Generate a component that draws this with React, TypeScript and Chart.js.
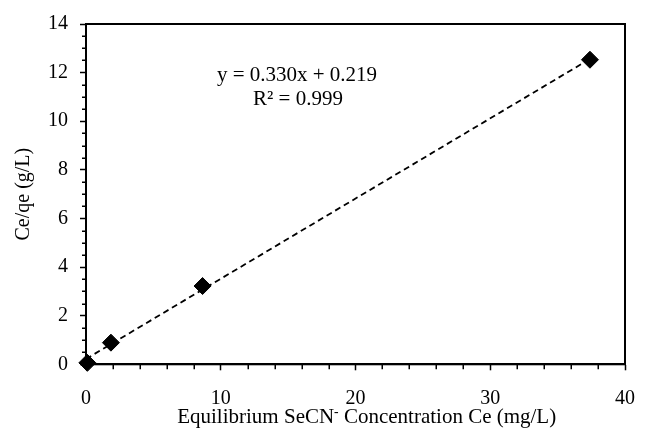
import React, { useEffect, useRef } from "react";
import { Chart, registerables } from "chart.js";

Chart.register(...registerables);

// Data
const ceValues = [0.1, 1.85, 8.65, 37.4]; // Equilibrium SeCN- concentration Ce (mg/L)
const ceQeValues = [0.06, 0.89, 3.22, 12.53]; // Ce/qe (g/L)
const trendSlope = 0.33;
const trendIntercept = 0.219;
const rSquared = 0.999;
const trendRange = [0, 37.4];
const xMajorTicks = [0, 10, 20, 30, 40];
const yMajorTicks = [0, 2, 4, 6, 8, 10, 12, 14];
const xMinorStep = 2;
const yMinorStep = 0.5;

const FONT = '"Liberation Serif", "Times New Roman", serif';
const FS = 20;
const FS_TITLE = 21;

const boxPlugin = {
  id: "boxPlugin",
  beforeDatasetsDraw(chart: any) {
    const { ctx, chartArea, scales } = chart;
    ctx.save();
    ctx.strokeStyle = "#000";
    ctx.lineWidth = 2;
    ctx.strokeRect(chartArea.left, chartArea.top, chartArea.right - chartArea.left, chartArea.bottom - chartArea.top);
    // minor ticks
    ctx.lineWidth = 1.5;
    ctx.beginPath();
    for (let v = 0; v <= 40 + 1e-9; v += xMinorStep) {
      if (xMajorTicks.includes(v)) continue;
      const px = Math.round(scales.x.getPixelForValue(v)) + 0.25;
      ctx.moveTo(px, chartArea.bottom);
      ctx.lineTo(px, chartArea.bottom + 5);
    }
    for (let v = 0; v <= 14 + 1e-9; v += yMinorStep) {
      if (yMajorTicks.includes(v)) continue;
      const py = Math.round(scales.y.getPixelForValue(v)) + 0.25;
      ctx.moveTo(chartArea.left, py);
      ctx.lineTo(chartArea.left - 4, py);
    }
    ctx.stroke();
    ctx.restore();
  },
  afterDraw(chart: any) {
    const { ctx } = chart;
    ctx.save();
    ctx.fillStyle = "#000";
    // x-axis title with superscript
    const partA = "Equilibrium SeCN";
    const sup = "-";
    const partB = " Concentration Ce (mg/L)";
    ctx.font = `${FS_TITLE}px ${FONT}`;
    const wA = ctx.measureText(partA).width;
    const wB = ctx.measureText(partB).width;
    ctx.font = `${FS_TITLE * 0.65}px ${FONT}`;
    const wS = ctx.measureText(sup).width;
    const total = wA + wS + wB;
    const cx = 366.7;
    let x = cx - total / 2;
    const baseY = 423.3;
    ctx.textBaseline = "alphabetic";
    ctx.textAlign = "left";
    ctx.font = `${FS_TITLE}px ${FONT}`;
    ctx.fillText(partA, x, baseY);
    x += wA;
    ctx.font = `${FS_TITLE * 0.65}px ${FONT}`;
    ctx.fillText(sup, x, baseY - 7.5);
    x += wS;
    ctx.font = `${FS_TITLE}px ${FONT}`;
    ctx.fillText(partB, x, baseY);

    // equation annotation
    ctx.textAlign = "center";
    ctx.font = `${FS_TITLE}px ${FONT}`;
    const ex = 297;
    ctx.fillText(`y = ${trendSlope.toFixed(3)}x + ${trendIntercept.toFixed(3)}`, ex, 80.5);
    ctx.fillText(`R² = ${rSquared.toFixed(3)}`, ex + 1, 105);
    ctx.restore();
  },
};

export default function App() {
  const canvasRef = useRef<HTMLCanvasElement | null>(null);

  useEffect(() => {
    document.body.style.margin = "0";
    const canvas = canvasRef.current;
    if (!canvas) return;
    const trendData = trendRange.map((x) => ({ x, y: trendSlope * x + trendIntercept }));
    const points = ceValues.map((x, i) => ({ x, y: ceQeValues[i] }));
    const chart = new Chart(canvas, {
      type: "scatter",
      data: {
        datasets: [
          {
            label: "data",
            data: points,
            pointStyle: "rectRot",
            pointRadius: 8.5,
            pointBackgroundColor: "#000",
            pointBorderColor: "#000",
            pointBorderWidth: 1,
            showLine: false,
            clip: false,
            order: 0,
          } as any,
          {
            label: "trend",
            data: trendData,
            showLine: true,
            borderColor: "#000",
            borderWidth: 1.8,
            borderDash: [6, 4],
            pointRadius: 0,
            fill: false,
            clip: false,
            order: 1,
          } as any,
        ],
      },
      options: {
        animation: false,
        responsive: false,
        devicePixelRatio: 1,
        layout: { padding: { top: 19.5, right: 23, left: 0, bottom: 0 } },
        plugins: { legend: { display: false }, tooltip: { enabled: false } },
        scales: {
          x: {
            type: "linear",
            min: 0,
            max: 40,
            afterFit: (s: any) => {
              s.height = 65.7;
            },
            afterBuildTicks: (s: any) => {
              s.ticks = xMajorTicks.map((value) => ({ value }));
            },
            border: { display: true, color: "#000", width: 2 },
            grid: { display: true, drawOnChartArea: false, drawTicks: true, tickLength: 6, tickColor: "#000", tickWidth: 1.5 },
            ticks: {
              autoSkip: false,
              maxRotation: 0,
              padding: 16,
              color: "#000",
              font: { family: FONT, size: FS },
            },
          },
          y: {
            type: "linear",
            min: 0,
            max: 14,
            afterFit: (s: any) => {
              s.width = 86;
            },
            afterBuildTicks: (s: any) => {
              s.ticks = yMajorTicks.map((value) => ({ value }));
            },
            border: { display: true, color: "#000", width: 2 },
            grid: { display: true, drawOnChartArea: false, drawTicks: true, tickLength: 6, tickColor: "#000", tickWidth: 1.5 },
            title: {
              display: true,
              text: "Ce/qe (g/L)",
              color: "#000",
              font: { family: FONT, size: FS },
              padding: { top: 12, bottom: 0 },
            },
            ticks: {
              autoSkip: false,
              padding: 12,
              color: "#000",
              font: { family: FONT, size: FS },
            },
          },
        },
      },
      plugins: [boxPlugin],
    });
    return () => chart.destroy();
  }, []);

  return (
    <div style={{ width: 651, height: 430, background: "#fff" }}>
      <canvas ref={canvasRef} width={651} height={430} style={{ display: "block" }} />
    </div>
  );
}
